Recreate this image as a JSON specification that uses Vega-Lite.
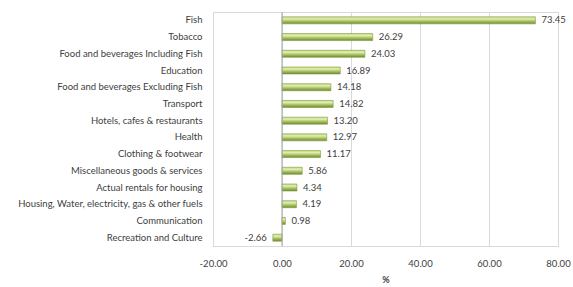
{
  "$schema": "https://vega.github.io/schema/vega-lite/v6.json",
  "autosize": {"type": "none"},
  "width": 345,
  "height": 234,
  "padding": {"left": 213, "top": 12, "right": 15, "bottom": 41},
  "background": "white",
  "config": {
    "view": {"stroke": "#d9d9d9", "strokeWidth": 1},
    "font": "Lato",
    "locale": {"number": {"decimal": ".", "thousands": ",", "grouping": [3], "currency": ["$", ""], "minus": "-"}}
  },
  "data": {
    "values": [
      {"category": "Fish", "value": 73.45},
      {"category": "Tobacco", "value": 26.29},
      {"category": "Food and  beverages Including Fish", "value": 24.03},
      {"category": "Education", "value": 16.89},
      {"category": "Food and  beverages Excluding Fish", "value": 14.18},
      {"category": "Transport", "value": 14.82},
      {"category": "Hotels, cafes & restaurants", "value": 13.20},
      {"category": "Health", "value": 12.97},
      {"category": "Clothing & footwear", "value": 11.17},
      {"category": "Miscellaneous goods & services", "value": 5.86},
      {"category": "Actual rentals for housing", "value": 4.34},
      {"category": "Housing, Water, electricity, gas & other fuels", "value": 4.19},
      {"category": "Communication", "value": 0.98},
      {"category": "Recreation and Culture", "value": -2.66}
    ]
  },
  "encoding": {
    "y": {
      "field": "category",
      "type": "nominal",
      "sort": null,
      "axis": {
        "title": null,
        "ticks": false,
        "domain": false,
        "labelPadding": 11,
        "labelFontSize": 9.5,
        "labelColor": "#404040",
        "labelLimit": 220
      }
    },
    "x": {
      "field": "value",
      "type": "quantitative",
      "scale": {"domain": [-20, 80], "nice": false, "zero": false},
      "axis": {
        "title": "%",
        "titleFontSize": 9,
        "titleColor": "#404040",
        "titlePadding": 8,
        "values": [-20, 0, 20, 40, 60, 80],
        "format": ".2f",
        "labelFontSize": 9.5,
        "labelColor": "#404040",
        "labelPadding": 12,
        "ticks": false,
        "domainColor": "#d9d9d9",
        "gridColor": "#d9d9d9",
        "labelFlush": false
      }
    }
  },
  "layer": [
    {
      "mark": {
        "type": "bar",
        "size": 7,
        "color": {
          "gradient": "linear",
          "x1": 0, "y1": 0, "x2": 0, "y2": 1,
          "stops": [
            {"offset": 0, "color": "#c9d98a"},
            {"offset": 0.3, "color": "#e3ecb4"},
            {"offset": 0.6, "color": "#a9c464"},
            {"offset": 1, "color": "#6e8a2e"}
          ]
        },
        "stroke": "#7f9a3a",
        "strokeWidth": 0.6
      }
    },
    {
      "mark": {"type": "rule", "color": "#a6a6a6", "strokeWidth": 1},
      "data": {"values": [{"zero": 0}]},
      "encoding": {
        "x": {"field": "zero", "type": "quantitative"},
        "y": null
      }
    },
    {
      "transform": [{"filter": "datum.value >= 0"}],
      "mark": {"type": "text", "align": "left", "dx": 6, "fontSize": 9.5, "color": "#404040"},
      "encoding": {"text": {"field": "value", "type": "quantitative", "format": ".2f"}}
    },
    {
      "transform": [{"filter": "datum.value < 0"}],
      "mark": {"type": "text", "align": "right", "dx": -6, "fontSize": 9.5, "color": "#404040"},
      "encoding": {"text": {"field": "value", "type": "quantitative", "format": ".2f"}}
    }
  ]
}
